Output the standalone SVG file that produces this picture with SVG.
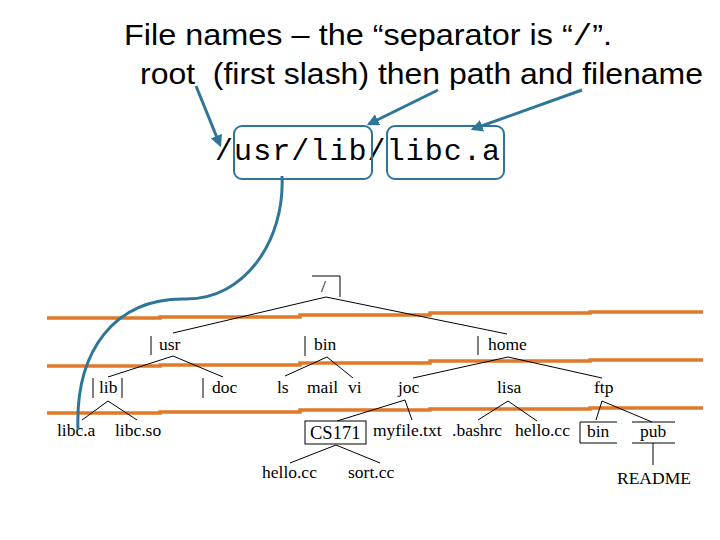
<svg xmlns="http://www.w3.org/2000/svg" width="720" height="540" viewBox="0 0 720 540">
<style>
.title{font-family:"Liberation Sans",Arial,sans-serif;font-size:29px;fill:#000}
.mono{font-family:"Liberation Mono","Courier New",monospace;font-size:30px;fill:#000}
.t{font-family:"Liberation Serif","Times New Roman",serif;font-size:17.5px;fill:#000}
.tl{stroke:#000;stroke-width:1;fill:none}
.call{stroke:#2e7597;stroke-width:3;fill:none}
.box{stroke:#2e7597;stroke-width:2;fill:none}
.band{stroke:#e07a2a;stroke-width:3.5;fill:none}
</style>
<defs>
<marker id="ah" viewBox="0 0 10 10" refX="8" refY="5" markerWidth="4" markerHeight="4" orient="auto" markerUnits="strokeWidth">
<path d="M0,0 L10,5 L0,10 z" fill="#2e7597"/>
</marker>
</defs>
<g id="title">
<text class="title" x="124" y="45" textLength="488" lengthAdjust="spacingAndGlyphs">File names – the “separator is “<tspan font-family="Liberation Mono,monospace">/</tspan>”.</text>
<text class="title" x="140" y="84" xml:space="preserve" textLength="563" lengthAdjust="spacingAndGlyphs">root  (first slash) then path and filename</text>
</g>
<g id="path">
<text class="mono" x="215" y="160" textLength="285" lengthAdjust="spacing">/usr/lib/libc.a</text>
<rect class="box" x="234" y="126" width="138" height="53" rx="8"/>
<rect class="box" x="387" y="126" width="117" height="53" rx="8"/>
</g>
<g id="bands">
<polyline class="band" points="47,318 160,318 160,317 300,317 300,315 430,315 430,313 590,313 590,312 703,312"/>
<polyline class="band" points="47,366 160,366 160,365 300,365 300,363 430,363 430,361 590,361 590,360 703,360"/>
<polyline class="band" points="47,413 160,413 160,412 300,412 300,410 430,410 430,409 590,409 590,408 703,408"/>
</g>
<g id="tree-connectors">
<polyline class="tl" points="312,276 340,276 340,297"/>
<polyline class="tl" points="173,333 326,297 507,334"/>
<line class="tl" x1="151" y1="336" x2="151" y2="355"/>
<line class="tl" x1="305" y1="336" x2="305" y2="356"/>
<line class="tl" x1="478" y1="336" x2="478" y2="355"/>
<polyline class="tl" points="108,377 173,356 223,377"/>
<polyline class="tl" points="285,376 327,357 353,378"/>
<polyline class="tl" points="413,378 508,357 602,378"/>
<line class="tl" x1="93" y1="378" x2="93" y2="398"/>
<line class="tl" x1="122" y1="378" x2="122" y2="398"/>
<line class="tl" x1="203" y1="378" x2="203" y2="398"/>
<polyline class="tl" points="82,420 108,401 137,420"/>
<polyline class="tl" points="337,421 405,400 412,420"/>
<polyline class="tl" points="478,420 508,401 537,421"/>
<polyline class="tl" points="596,420 602,401 652,422"/>
<polyline class="tl" points="290,463 336,445 380,463"/>
<polyline class="tl" points="617,422 580,422 580,443 617,443"/>
<line class="tl" x1="632" y1="422" x2="675" y2="422"/>
<line class="tl" x1="632" y1="443" x2="675" y2="443"/>
<line class="tl" x1="653" y1="443" x2="653" y2="465"/>
</g>
<g id="nodes">
<g id="n-root"><text class="t" x="321" y="292">/</text></g>
<g id="n-usr"><text class="t" x="159" y="350">usr</text></g>
<g id="n-bin"><text class="t" x="314" y="350">bin</text></g>
<g id="n-home"><text class="t" x="488" y="350">home</text></g>
<g id="n-lib"><text class="t" x="99" y="393">lib</text></g>
<g id="n-doc"><text class="t" x="212" y="393">doc</text></g>
<g id="n-ls"><text class="t" x="277" y="393">ls</text></g>
<g id="n-mail"><text class="t" x="307" y="393">mail</text></g>
<g id="n-vi"><text class="t" x="348" y="393">vi</text></g>
<g id="n-joc"><text class="t" x="398" y="393">joc</text></g>
<g id="n-lisa"><text class="t" x="497" y="393">lisa</text></g>
<g id="n-ftp"><text class="t" x="594" y="393">ftp</text></g>
<g id="n-libca"><text class="t" x="57" y="436">libc.a</text></g>
<g id="n-libcso"><text class="t" x="115" y="436">libc.so</text></g>
<g id="n-cs171"><rect x="305" y="421" width="61" height="23" fill="none" stroke="#000" stroke-width="1"/><text class="t" x="310" y="439" style="font-size:18.5px">CS171</text></g>
<g id="n-myfile"><text class="t" x="373" y="436">myfile.txt</text></g>
<g id="n-bashrc"><text class="t" x="452" y="436">.bashrc</text></g>
<g id="n-hello1"><text class="t" x="515" y="436">hello.cc</text></g>
<g id="n-fbin"><text class="t" x="587" y="437">bin</text></g>
<g id="n-pub"><text class="t" x="640" y="437">pub</text></g>
<g id="n-hello2"><text class="t" x="262" y="478">hello.cc</text></g>
<g id="n-sort"><text class="t" x="348" y="478">sort.cc</text></g>
<g id="n-readme"><text class="t" x="617" y="484">README</text></g>
</g>
<g id="connectors">
<line class="call" x1="196" y1="86" x2="220" y2="145" marker-end="url(#ah)"/>
<line class="call" x1="438" y1="90" x2="369" y2="124" marker-end="url(#ah)"/>
<line class="call" x1="582" y1="90" x2="473" y2="129" marker-end="url(#ah)"/>
<path class="call" stroke-width="3.5" d="M282,176 C285,240 245,300 185,299 C115,298 75,350 78,430"/>
</g>
</svg>
